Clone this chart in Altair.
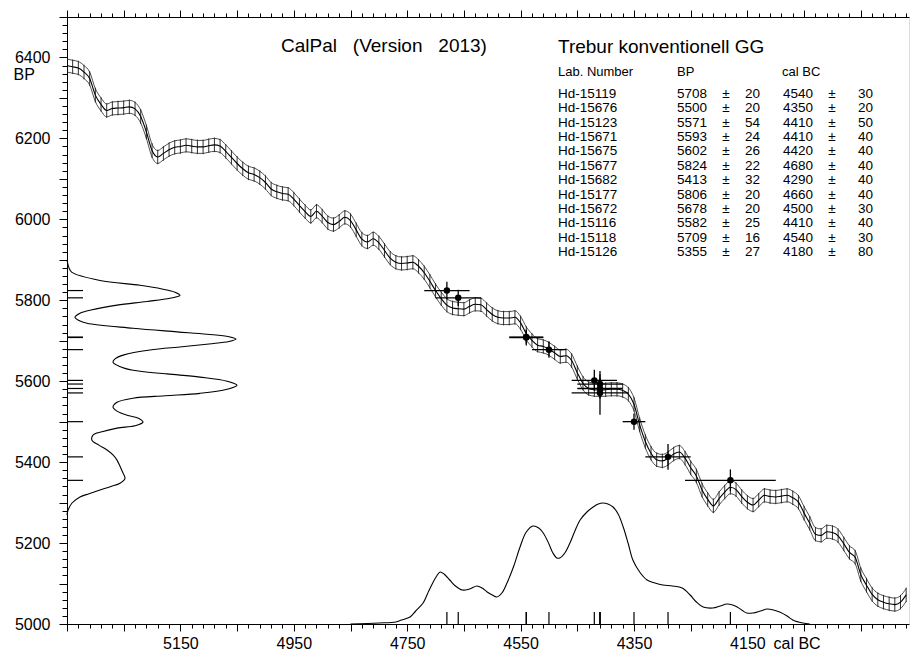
import altair as alt
import pandas as pd

# ---------------- data ----------------
# calibration curve (cal BC every 10 years, BP)
curve_cal = list(range(5350, 3865, -10))
curve_bp = [6380, 6377, 6374, 6364, 6348, 6307, 6284, 6269, 6274, 6275,
            6276, 6278, 6273, 6254, 6216, 6170, 6154, 6163, 6172, 6178,
            6180, 6183, 6181, 6179, 6179, 6182, 6184, 6181, 6168, 6153,
            6138, 6125, 6115, 6111, 6103, 6091, 6075, 6068, 6064, 6062,
            6050, 6034, 6019, 6007, 6020, 6008, 5992, 5987, 5995, 6005,
            5997, 5974, 5951, 5944, 5952, 5942, 5923, 5904, 5894, 5891,
            5892, 5894, 5884, 5868, 5847, 5824, 5804, 5788, 5781, 5779,
            5778, 5785, 5790, 5789, 5777, 5765, 5758, 5756, 5756, 5758,
            5744, 5718, 5701, 5689, 5686, 5680, 5670, 5661, 5663, 5651,
            5621, 5595, 5582, 5579, 5578, 5579, 5580, 5580, 5577, 5568,
            5543, 5492, 5451, 5422, 5406, 5403, 5409, 5420, 5425, 5410,
            5386, 5366, 5331, 5308, 5292, 5310, 5326, 5338, 5332, 5315,
            5301, 5294, 5306, 5318, 5315, 5314, 5316, 5318, 5312, 5301,
            5274, 5249, 5222, 5219, 5228, 5226, 5218, 5198, 5177, 5165,
            5122, 5096, 5073, 5060, 5054, 5050, 5048, 5054, 5072]
curve_sigma = 16

# samples
labs = ["Hd-15119", "Hd-15676", "Hd-15123", "Hd-15671", "Hd-15675", "Hd-15677",
        "Hd-15682", "Hd-15177", "Hd-15672", "Hd-15116", "Hd-15118", "Hd-15126"]
bp = [5708, 5500, 5571, 5593, 5602, 5824, 5413, 5806, 5678, 5582, 5709, 5355]
bp_err = [20, 20, 54, 24, 26, 22, 32, 20, 20, 25, 16, 27]
cal = [4540, 4350, 4410, 4410, 4420, 4680, 4290, 4660, 4500, 4410, 4540, 4180]
cal_err = [30, 20, 50, 40, 40, 40, 40, 40, 30, 40, 30, 80]

# summed BP probability (left), arbitrary units
bpd_bp = [5899, 5880, 5869, 5849, 5837, 5828, 5820, 5812, 5805, 5797,
          5788, 5776, 5768, 5758, 5750, 5743, 5731, 5722, 5716, 5710,
          5704, 5698, 5692, 5685, 5677, 5665, 5655, 5647, 5637, 5627,
          5618, 5610, 5600, 5590, 5580, 5570, 5564, 5558, 5548, 5536,
          5526, 5516, 5508, 5499, 5490, 5484, 5475, 5467, 5454, 5442,
          5430, 5418, 5405, 5390, 5373, 5360, 5348, 5340, 5331, 5322,
          5314, 5299, 5281, 5269]
bpd_val = [0, 2, 5, 33, 73, 95, 108, 113, 103, 80,
           50, 24, 13, 8, 12, 20, 66, 110, 140, 162,
           169, 162, 142, 115, 83, 57, 48, 46, 52, 66,
           100, 133, 160, 170, 160, 133, 98, 66, 50, 46,
           50, 60, 72, 76, 68, 50, 35, 26, 25, 32,
           40, 46, 50, 53, 56, 58, 53, 44, 33, 22,
           13, 5, 1, 0]

# summed calendar probability (bottom), arbitrary units
cald_cal = [4850, 4800, 4770, 4760, 4745, 4735, 4722, 4712, 4705, 4698,
            4692, 4685, 4675, 4665, 4653, 4640, 4627, 4618, 4609, 4600,
            4592, 4583, 4574, 4562, 4551, 4540, 4528, 4518, 4510, 4500,
            4493, 4486, 4481, 4472, 4463, 4455, 4445, 4433, 4422, 4413,
            4405, 4396, 4387, 4378, 4369, 4360, 4352, 4340, 4327, 4313,
            4299, 4282, 4265, 4251, 4240, 4228, 4211, 4198, 4186, 4176,
            4168, 4151, 4140, 4127, 4115, 4104, 4093, 4080, 4070, 4060,
            4052, 4040]
cald_val = [0, 1, 2, 4, 7, 13, 21, 33, 41, 48,
            52, 50, 44, 38, 34, 35, 38, 36, 32, 29,
            27, 31, 41, 58, 77, 92, 98, 96, 91, 80,
            71, 66, 66, 71, 81, 92, 104, 112, 117, 120,
            121, 120, 117, 110, 97, 80, 64, 52, 44, 41,
            39, 38, 36, 29, 22, 17, 16, 18, 20, 19,
            17, 11, 11, 13, 15, 14, 12, 8, 4, 2,
            1, 0]

x_ticks = list(range(5350, 3860, -20))
y_ticks = list(range(5000, 6501, 20))
x_labels = [5150, 4950, 4750, 4550, 4350, 4150]

title_left = "CalPal\u00a0\u00a0\u00a0(Version\u00a0\u00a0\u00a02013)"
title_right = "Trebur konventionell GG"
head_lab, head_bp, head_cal = "Lab.\u00a0Number", "BP", "cal\u00a0BC"

# ---------------- chart ----------------
W, H = 842, 607
FONT = "Liberation Sans"
XS = alt.Scale(domain=[3865, 5350], reverse=True, nice=False, zero=False)
YS = alt.Scale(domain=[5000, 6500], nice=False, zero=False)
BPD_PEAK_PX = 170   # drawn width of the highest BP-density peak
CALD_PEAK_PX = 121  # drawn height of the highest calendar-density peak

curve = pd.DataFrame({"cal": curve_cal, "bp": curve_bp})
samples = pd.DataFrame({"lab": labs, "bp": bp, "bp_err": bp_err,
                        "cal": cal, "cal_err": cal_err,
                        "i": list(range(len(labs)))})
bpd = pd.DataFrame({"bp": bpd_bp, "d": bpd_val})
cald = pd.DataFrame({"cal": cald_cal, "d": cald_val})
one = pd.DataFrame({"cal": [5000], "bp": [5500]})

X = lambda f: alt.X(f, type="quantitative", scale=XS, axis=None)
Y = lambda f: alt.Y(f, type="quantitative", scale=YS, axis=None)

base_c = alt.Chart(curve)
env_up = base_c.transform_calculate(v=f"datum.bp + {curve_sigma}").mark_line(
    color="#222222", strokeWidth=0.8, interpolate="monotone", clip=True
).encode(x=X("cal"), y=Y("v"))
env_dn = base_c.transform_calculate(v=f"datum.bp - {curve_sigma}").mark_line(
    color="#222222", strokeWidth=0.8, interpolate="monotone", clip=True
).encode(x=X("cal"), y=Y("v"))
center = base_c.mark_line(color="#000000", strokeWidth=1.1,
                          interpolate="monotone", clip=True).encode(
    x=X("cal"), y=Y("bp"))
bars = base_c.transform_calculate(
    lo=f"datum.bp - {curve_sigma + 2}", hi=f"datum.bp + {curve_sigma + 2}"
).mark_rule(color="#1a1a1a", strokeWidth=0.9, clip=True).encode(
    x=X("cal"), y=Y("lo"), y2="hi:Q")

base_s = alt.Chart(samples)
hbar = base_s.transform_calculate(
    lo="datum.cal - datum.cal_err", hi="datum.cal + datum.cal_err"
).mark_rule(color="black", strokeWidth=1.3).encode(x=X("lo"), x2="hi:Q", y=Y("bp"))
vbar = base_s.transform_calculate(
    lo="datum.bp - datum.bp_err", hi="datum.bp + datum.bp_err"
).mark_rule(color="black", strokeWidth=1.3).encode(x=X("cal"), y=Y("lo"), y2="hi:Q")
dots = base_s.mark_circle(color="black", size=42, opacity=1).encode(
    x=X("cal"), y=Y("bp"))
left_ticks = base_s.mark_rule(color="black", strokeWidth=1.2).encode(
    x=alt.value(0), x2=alt.value(16), y=Y("bp"))
bottom_ticks = base_s.mark_rule(color="black", strokeWidth=1.2).encode(
    x=X("cal"), y=alt.value(H), y2=alt.value(H - 12))

bp_density = alt.Chart(bpd).mark_line(
    color="black", strokeWidth=1.1, interpolate="catmull-rom").encode(
    x=alt.X("d:Q", scale=alt.Scale(domain=[0, max(bpd_val) * W / BPD_PEAK_PX],
                                   nice=False, zero=False), axis=None),
    y=Y("bp"), order="bp:Q")
cal_density = alt.Chart(cald).mark_line(
    color="black", strokeWidth=1.1, interpolate="catmull-rom").encode(
    x=X("cal"),
    y=alt.Y("d:Q", scale=alt.Scale(domain=[0, max(cald_val) * H / CALD_PEAK_PX],
                                   nice=False, zero=False), axis=None))

axis_common = dict(grid=False, domainColor="black", tickColor="black",
                   labelColor="black", labelFont=FONT, labelFontSize=16,
                   domainWidth=1, tickWidth=1, labelOverlap=False, labelFlush=False)

lab_list = ",".join(str(v) for v in x_labels)
x_bottom = alt.Chart(one).mark_point(opacity=0).encode(
    x=alt.X("cal:Q", scale=XS, axis=alt.Axis(
        orient="bottom", values=x_ticks,
        tickSize={"condition": {"test": "datum.value % 100 === 50", "value": 7}, "value": 4},
        labelExpr=f"indexof([{lab_list}], datum.value) >= 0 ? format(datum.value, 'd') : ''",
        labelPadding=4, title="cal BC", titleFont=FONT, titleFontSize=16,
        titleFontWeight="normal", titleColor="black", titleAlign="left",
        titleBaseline="top", titleX=706, titleY=11, **axis_common)))
x_top = alt.Chart(one).mark_point(opacity=0).encode(
    x=alt.X("cal:Q", scale=XS, axis=alt.Axis(
        orient="top", values=x_ticks, labels=False, title=None,
        tickSize={"condition": {"test": "datum.value % 100 === 50", "value": 7}, "value": 4},
        **{k: v for k, v in axis_common.items() if not k.startswith("label")})))
y_left = alt.Chart(one).mark_point(opacity=0).encode(
    y=alt.Y("bp:Q", scale=YS, axis=alt.Axis(
        orient="left", values=y_ticks,
        tickSize={"condition": {"test": "datum.value % 100 === 0", "value": 8}, "value": 5},
        labelExpr="(datum.value % 200 === 0 && datum.value <= 6400) ? format(datum.value, 'd') : ''",
        labelPadding=9, title="BP", titleFont=FONT, titleFontSize=16,
        titleFontWeight="normal", titleColor="black", titleAngle=0,
        titleAlign="left", titleBaseline="middle", titleX=-54, titleY=57,
        **axis_common)))

# texts
t1 = alt.Chart(pd.DataFrame({"t": [title_left]})).mark_text(
    align="left", baseline="middle", fontSize=19, font=FONT, color="black").encode(
    text="t:N", x=alt.value(214), y=alt.value(29))
t2 = alt.Chart(pd.DataFrame({"t": [title_right]})).mark_text(
    align="left", baseline="middle", fontSize=19, font=FONT, color="black").encode(
    text="t:N", x=alt.value(491), y=alt.value(30))
heads = []
for txt, xp in [(head_lab, 491), (head_bp, 610), (head_cal, 715)]:
    heads.append(alt.Chart(pd.DataFrame({"t": [txt]})).mark_text(
        align="left", baseline="middle", fontSize=13, font=FONT, color="black").encode(
        text="t:N", x=alt.value(xp), y=alt.value(55)))

rows = base_s.transform_calculate(ty="77 + datum.i * 14.36")
TY = alt.Y("ty:Q", scale=None, axis=None)
cols = []
for field, xp, al in [("lab", 491, "left"), ("bp", 610, "left"), ("bp_err", 693, "right"),
                      ("cal", 716, "left"), ("cal_err", 806, "right")]:
    cols.append(rows.mark_text(align=al, baseline="middle", fontSize=13.5, font=FONT,
                               color="black").encode(text=f"{field}:N", x=alt.value(xp), y=TY))
for xp in [659, 765]:
    cols.append(rows.mark_text(align="center", baseline="middle", fontSize=13.5, font=FONT,
                               color="black", text="\u00b1").encode(x=alt.value(xp), y=TY))

chart = alt.layer(
    cal_density, bp_density, env_up, env_dn, bars, center,
    hbar, vbar, dots, left_ticks, bottom_ticks,
    x_bottom, x_top, y_left, t1, t2, *heads, *cols
).resolve_scale(x="independent", y="independent").properties(
    width=W, height=H,
    padding={"left": 67, "top": 17, "right": 1, "bottom": 29},
    autosize=alt.AutoSizeParams(type="none"),
    background="white",
).configure_view(stroke=None).configure(font=FONT)

chart.save("out.html", embed_options={"renderer": "svg", "actions": False})
